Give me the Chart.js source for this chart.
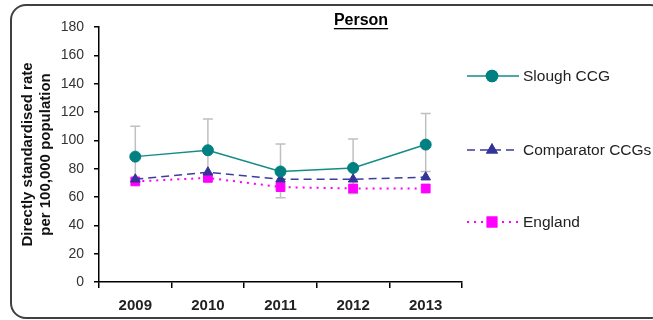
<!DOCTYPE html>
<html>
<head>
<meta charset="utf-8">
<style>
  html, body { margin: 0; padding: 0; background: #fff; }
  #wrap { width: 653px; height: 320px; }
</style>
<script src="https://cdn.jsdelivr.net/npm/chart.js@4.4.1/dist/chart.umd.min.js"></script>
</head>
<body>
<div id="wrap"><canvas id="rateChart" width="653" height="320"></canvas></div>
<script>
const years = ['2009', '2010', '2011', '2012', '2013'];
const slough = [88.5, 93, 78, 80.5, 97];
const sloughUpper = [110, 115, 97.5, 101, 119];
const sloughLower = [71, 76, 59.5, 62.5, 78];
const comparator = [72.5, 77.5, 72.5, 72.5, 74];
const england = [71, 73.5, 67, 66, 66];
const yTicks = [0, 20, 40, 60, 80, 100, 120, 140, 160, 180];

const FONT = "'Liberation Sans', Arial, sans-serif";

const series = [
  { label: 'Slough CCG', data: slough, color: '#008080', line: '#138c86', dash: [], style: 'circle', radius: 5.5, width: 1.5 },
  { label: 'Comparator CCGs', data: comparator, color: '#333399', line: '#3d3d9e', dash: [8, 5], style: 'triangle', radius: 5.5, width: 1.5 },
  { label: 'England', data: england, color: '#ff00ff', line: '#ff00ff', dash: [2, 5], style: 'rect', radius: 6.2, width: 2 }
];

// confidence interval whiskers for Slough, behind the markers
const errorBars = {
  id: 'errorBars',
  beforeDatasetsDraw(chart) {
    const { ctx, scales: { x, y } } = chart;
    ctx.save();
    ctx.strokeStyle = '#c0c0c0';
    ctx.lineWidth = 1.5;
    years.forEach((yr, i) => {
      const px = x.getPixelForValue(i);
      const top = y.getPixelForValue(sloughUpper[i]);
      const bot = y.getPixelForValue(sloughLower[i]);
      ctx.beginPath();
      ctx.moveTo(px, top);
      ctx.lineTo(px, bot);
      ctx.moveTo(px - 5, top);
      ctx.lineTo(px + 5, top);
      ctx.moveTo(px - 5, bot);
      ctx.lineTo(px + 5, bot);
      ctx.stroke();
    });
    ctx.restore();
  }
};

// frame, underlined heading and the side legend
const decorations = {
  id: 'decorations',
  afterDraw(chart) {
    const { ctx } = chart;
    ctx.save();

    // rounded outer frame, right edge runs off the canvas
    ctx.strokeStyle = '#404040';
    ctx.lineWidth = 2;
    ctx.beginPath();
    ctx.roundRect(11, 5, 654, 313, 15);
    ctx.stroke();

    // heading
    ctx.fillStyle = '#000';
    ctx.font = 'bold 16px ' + FONT;
    ctx.textAlign = 'center';
    ctx.textBaseline = 'middle';
    ctx.fillText('Person', 361, 21);
    const w = ctx.measureText('Person').width;
    ctx.fillRect(361 - w / 2, 28, w, 1.3);

    // legend
    const rows = [76, 150, 222];
    series.forEach((s, i) => {
      const ly = rows[i];
      ctx.strokeStyle = s.line;
      ctx.lineWidth = s.width;
      ctx.setLineDash(s.dash);
      ctx.beginPath();
      ctx.moveTo(467, ly);
      ctx.lineTo(519, ly);
      ctx.stroke();
      ctx.setLineDash([]);
      Chart.helpers.drawPoint(ctx, {
        pointStyle: s.style, radius: s.radius, rotation: 0, borderWidth: 1
      }, 492, ly);
      ctx.fillStyle = s.color;
      ctx.strokeStyle = s.color;
      ctx.fill();
      ctx.stroke();
      ctx.fillStyle = '#222';
      ctx.font = '15.5px ' + FONT;
      ctx.textAlign = 'left';
      ctx.fillText(s.label, 523, ly + 1);
    });
    ctx.restore();
  }
};

new Chart(document.getElementById('rateChart'), {
  type: 'line',
  data: {
    labels: years,
    datasets: series.map(s => ({
      label: s.label,
      data: s.data,
      borderColor: s.line,
      borderWidth: s.width,
      borderDash: s.dash,
      pointStyle: s.style,
      pointRadius: s.radius,
      pointBackgroundColor: s.color,
      pointBorderColor: s.color,
      pointBorderWidth: 1,
      tension: 0,
      fill: false
    }))
  },
  options: {
    responsive: false,
    animation: false,
    layout: { padding: { left: 18, right: 191, top: 27, bottom: 8 } },
    plugins: {
      legend: { display: false },
      tooltip: { enabled: false }
    },
    scales: {
      x: {
        offset: true,
        grid: { offset: true, drawOnChartArea: false, color: '#000', tickLength: 6, lineWidth: 1.5 },
        border: { color: '#000', width: 1.5 },
        ticks: { color: '#222', font: { family: FONT, size: 15, weight: 'bold' }, padding: 9 },
        afterFit(scale) { scale.height = 30; }
      },
      y: {
        min: 0,
        max: 180,
        afterBuildTicks(scale) { scale.ticks = yTicks.map(v => ({ value: v })); },
        grid: { drawOnChartArea: false, color: '#000', tickLength: 5, lineWidth: 1.5 },
        border: { color: '#000', width: 1.5 },
        ticks: { color: '#333', font: { family: FONT, size: 14 }, padding: 10 },
        title: {
          display: true,
          text: ['Directly standardised rate', 'per 100,000 population'],
          color: '#111',
          font: { family: FONT, size: 15, weight: 'bold', lineHeight: 1.25 },
          padding: 0
        },
        afterFit(scale) { scale.width = 81; }
      }
    }
  },
  plugins: [errorBars, decorations]
});
</script>
</body>
</html>
